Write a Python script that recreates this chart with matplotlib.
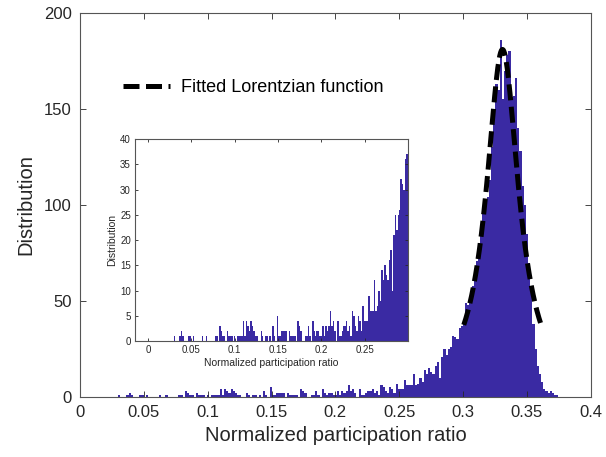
#Histogram of normalized participation ratio with Lorentzian fit and zoomed inset
import numpy as np
import matplotlib
matplotlib.use('Agg')
import matplotlib.pyplot as plt

plt.rcParams['font.family'] = ['Liberation Sans', 'DejaVu Sans']

#Histogram bins (left edge of first bin and bin width)
bin_start = 0.0295
bin_width = 0.0017

#Counts per bin
counts = [
    1, 0, 0, 0, 1, 2, 1, 0, 0, 0,
    1, 1, 0, 1, 0, 0, 0, 0, 0, 1,
    0, 0, 1, 0, 0, 0, 0, 0, 1, 1,
    0, 3, 2, 1, 1, 0, 2, 1, 1, 1,
    0, 1, 0, 1, 1, 1, 1, 4, 1, 4,
    3, 2, 4, 3, 2, 1, 1, 0, 0, 2,
    1, 0, 1, 1, 0, 1, 0, 3, 1, 0,
    5, 1, 1, 2, 2, 2, 2, 0, 2, 1,
    1, 1, 1, 0, 4, 3, 2, 0, 0, 1,
    1, 3, 1, 0, 4, 2, 1, 2, 2, 1,
    1, 3, 1, 3, 2, 3, 6, 3, 4, 2,
    0, 4, 1, 1, 2, 3, 3, 4, 2, 3,
    1, 6, 5, 3, 2, 5, 4, 2, 7, 4,
    4, 4, 9, 6, 6, 6, 12, 6, 7, 10,
    8, 14, 12, 15, 13, 12, 16, 18, 10, 21,
    25, 22, 25, 26, 32, 31, 30, 36, 37, 40,
    49, 48, 52, 58, 65, 71, 80, 84, 96, 100,
    104, 113, 130, 150, 163, 160, 186, 155, 170, 178,
    180, 156, 157, 166, 140, 128, 110, 100, 85, 70,
    55, 38, 25, 16, 12, 8, 4, 3, 2, 3,
    2, 1, 1,
]

#Fitted Lorentzian parameters
lor_amp = 181.0
lor_center = 0.3308
lor_gamma = 0.0155
lor_range = (0.3005, 0.3615)

main_xticks = [0, 0.05, 0.1, 0.15, 0.2, 0.25, 0.3, 0.35, 0.4]
main_xlabels = ['0', '0.05', '0.1', '0.15', '0.2', '0.25', '0.3', '0.35', '0.4']
main_yticks = [0, 50, 100, 150, 200]
inset_xticks = [0, 0.05, 0.1, 0.15, 0.2, 0.25]
inset_xlabels = ['0', '0.05', '0.1', '0.15', '0.2', '0.25']
inset_yticks = [0, 5, 10, 15, 20, 25, 30, 35, 40]

bar_col = '#3a2aa3'
axis_col = '#262626'

counts = np.array(counts)
edges = bin_start + bin_width * np.arange(len(counts))

xfit = np.linspace(lor_range[0], lor_range[1], 200)
yfit = lor_amp * lor_gamma**2 / ((xfit - lor_center)**2 + lor_gamma**2)


def style_axes(ax, fs):
    ax.tick_params(direction='in', top=True, right=True, labelsize=fs,
                   colors=axis_col, length=4, width=0.6)
    for sp in ax.spines.values():
        sp.set_color('#555555')
        sp.set_linewidth(0.8)


fig = plt.figure(figsize=(6.06, 4.57), dpi=100)

#Main axes
ax = fig.add_axes([0.132, 0.1313, 0.843, 0.8403])
ax.bar(edges, counts, width=bin_width, align='edge', color=bar_col, linewidth=0)
ax.plot(xfit, yfit, color='black', linewidth=3.6, dashes=(3.2, 1.3),
        solid_capstyle='butt', dash_capstyle='butt', label='Fitted Lorentzian function')
ax.set_xlim(0, 0.4)
ax.set_ylim(0, 200)
ax.set_xticks(main_xticks)
ax.set_xticklabels(main_xlabels)
ax.set_yticks(main_yticks)
style_axes(ax, 12)
ax.tick_params(pad=6)
ax.set_xlabel('Normalized participation ratio', fontsize=14.5, color=axis_col, labelpad=4)
ax.set_ylabel('Distribution', fontsize=14.5, color=axis_col, labelpad=6)
ax.legend(loc='center left', bbox_to_anchor=(0.085, 0.805), frameon=False,
          fontsize=13, handlelength=2.6, handletextpad=0.6,
          borderpad=0, borderaxespad=0)

#Inset axes
axin = fig.add_axes([0.2228, 0.2538, 0.4505, 0.442])
axin.bar(edges, counts, width=bin_width, align='edge', color=bar_col, linewidth=0)
axin.set_xlim(-0.015, 0.3)
axin.set_ylim(0, 40)
axin.set_xticks(inset_xticks)
axin.set_xticklabels(inset_xlabels)
axin.set_yticks(inset_yticks)
style_axes(axin, 7)
axin.tick_params(length=2.5, pad=3)
axin.set_xlabel('Normalized participation ratio', fontsize=7.5, color=axis_col, labelpad=2)
axin.set_ylabel('Distribution', fontsize=7.5, color=axis_col, labelpad=2)

fig.savefig('out.png', dpi=100)
